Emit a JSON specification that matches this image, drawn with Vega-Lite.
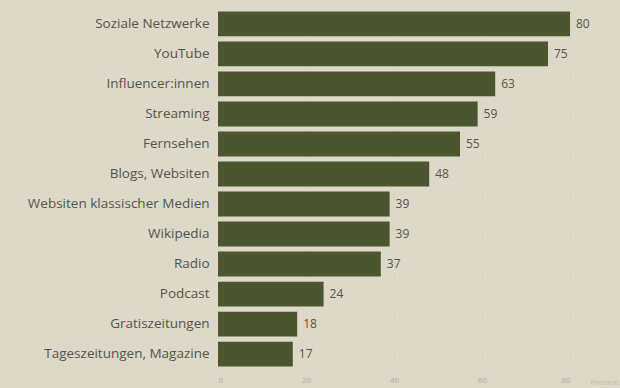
{
  "$schema": "https://vega.github.io/schema/vega-lite/v6.json",
  "width": 352,
  "height": 360,
  "autosize": {"type": "none"},
  "padding": {"left": 218, "top": 9, "right": 50, "bottom": 19},
  "background": "#ddd8c7",
  "config": {
    "view": {"stroke": null},
    "font": "Open Sans"
  },
  "data": {
    "values": [
      {"kategorie": "Soziale Netzwerke", "prozent": 80},
      {"kategorie": "YouTube", "prozent": 75},
      {"kategorie": "Influencer:innen", "prozent": 63},
      {"kategorie": "Streaming", "prozent": 59},
      {"kategorie": "Fernsehen", "prozent": 55},
      {"kategorie": "Blogs, Websiten", "prozent": 48},
      {"kategorie": "Websiten klassischer Medien", "prozent": 39},
      {"kategorie": "Wikipedia", "prozent": 39},
      {"kategorie": "Radio", "prozent": 37},
      {"kategorie": "Podcast", "prozent": 24},
      {"kategorie": "Gratiszeitungen", "prozent": 18},
      {"kategorie": "Tageszeitungen, Magazine", "prozent": 17}
    ]
  },
  "encoding": {
    "y": {
      "field": "kategorie",
      "type": "nominal",
      "sort": null,
      "title": null,
      "scale": {"paddingInner": 0.17, "paddingOuter": 0.08},
      "axis": {
        "domain": false,
        "ticks": false,
        "labelPadding": 9,
        "labelFontSize": 13.5,
        "labelLimit": 260,
        "labelColor": "#55544a",
        "labelFont": "Open Sans"
      }
    },
    "x": {
      "field": "prozent",
      "type": "quantitative",
      "scale": {"domain": [0, 80], "nice": false},
      "title": "Prozent",
      "axis": {
        "values": [0, 20, 40, 60, 80],
        "domain": false,
        "ticks": false,
        "labelFontSize": 8,
        "labelColor": "#b0ab9c",
        "labelPadding": 7,
        "grid": true,
        "gridColor": "#d2cdbc",
        "gridDash": [2, 3],
        "gridWidth": 1,
        "titleFontSize": 8,
        "titleFontWeight": "normal",
        "titleColor": "#b8c0a0",
        "titleAnchor": "start",
        "titleAlign": "left",
        "titleX": 372,
        "titleY": 13,
        "titleBaseline": "middle"
      }
    }
  },
  "layer": [
    {"mark": {"type": "bar", "color": "#4b5631"}},
    {
      "mark": {"type": "text", "align": "left", "dx": 6, "fontSize": 12, "color": "#55544a", "font": "Open Sans"},
      "encoding": {"text": {"field": "prozent", "type": "quantitative"}}
    }
  ]
}
